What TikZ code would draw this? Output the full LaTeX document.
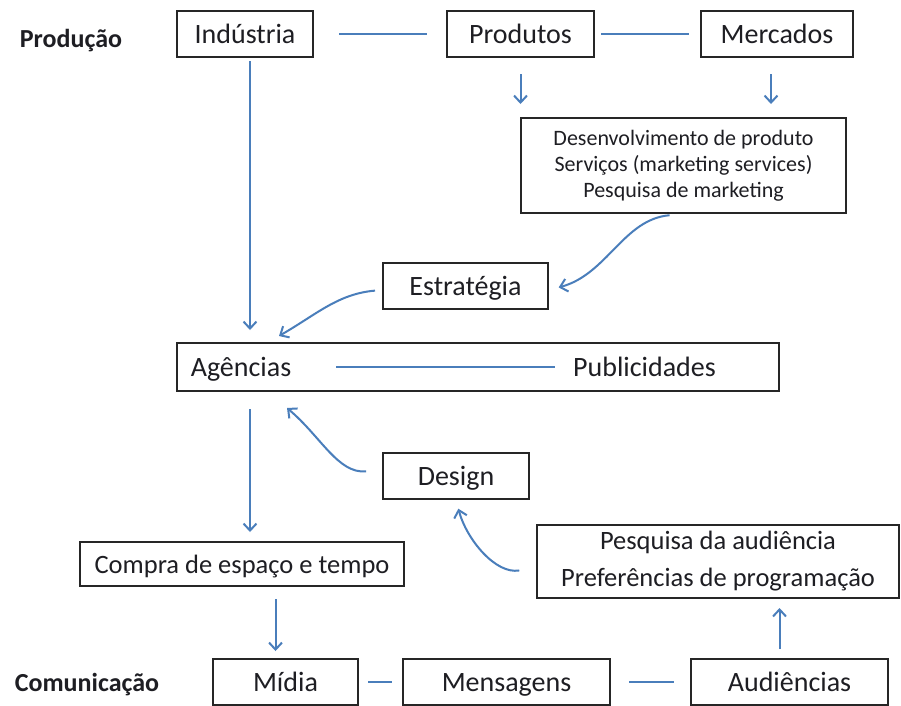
\documentclass[tikz,border=0pt]{standalone}
\usepackage{fontspec}
\setmainfont{Carlito}
\usetikzlibrary{arrows.meta}
\definecolor{linkblue}{RGB}{74,126,187}
\definecolor{inkgray}{RGB}{30,30,35}
\tikzset{x=1pt, y=1pt,
block/.style={ % Sets the properties for each box
draw=black!85,
line width=2pt,
inner sep=0pt,
text=inkgray,
text height=21pt, text depth=3pt,
font=\fontsize{28}{32}\selectfont},
multi/.style={block, text height=, text depth=, align=center},
plain/.style={inner sep=0pt, text=inkgray, text height=21pt, text depth=3pt,
font=\fontsize{28}{32}\selectfont},
stage/.style={plain, font=\bfseries\fontsize{26}{32}\selectfont},
every edge/.style={ % Sets the properties for each connector
draw=linkblue,
line width=2pt},
flow/.style={-{Straight Barb[length=7pt,width=13pt]}}}

\begin{document}
\begin{tikzpicture}
\fill[white] (0,0) rectangle (901,-705);
\useasboundingbox (0,0) rectangle (901,-705);
% Producao
\node[stage] (prodlbl) at (71,-38) {Produção};
\node[block, minimum width=136, minimum height=46] (ind) at (245,-34) {Indústria};
\node[block, minimum width=147, minimum height=46] (prod) at (520.5,-34) {Produtos};
\node[block, minimum width=152, minimum height=46] (merc) at (777,-34) {Mercados};
\node[multi, minimum width=325, minimum height=95,
  font=\fontsize{22}{26}\selectfont] (desenv) at (683.5,-165.5)
  {Desenvolvimento de produto\\Serviços (marketing services)\\Pesquisa de marketing};
\node[block, minimum width=165, minimum height=46] (estr) at (465.5,-286) {Estratégia};
\node[block, minimum width=602, minimum height=48] (agpub) at (478,-367) {};
\node[plain] (ag) at (241,-367) {Agências};
\node[plain] (pub) at (644.5,-367) {Publicidades};
\node[block, minimum width=146, minimum height=46] (design) at (456,-476) {Design};
\node[block, minimum width=324, minimum height=44,
  font=\fontsize{26.5}{32}\selectfont] (compra) at (242,-564) {Compra de espaço e tempo};
\node[multi, minimum width=362, minimum height=73,
  font=\fontsize{26.5}{37}\selectfont] (pesq) at (718,-561.5)
  {Pesquisa da audiência\\Preferências de programação};
% Comunicacao
\node[stage] (comlbl) at (87,-682) {Comunicação};
\node[block, minimum width=145, minimum height=46] (mid) at (285.5,-682) {Mídia};
\node[block, minimum width=207, minimum height=46] (mens) at (506.5,-682) {Mensagens};
\node[block, minimum width=197, minimum height=46] (aud) at (789.5,-682) {Audiências};
% plain links
\draw (ind) edge[shorten <=25pt, shorten >=19pt] (prod);
\draw (prod) edge[shorten <=6pt, shorten >=11pt] (merc);
\draw (ag) edge[shorten <=45pt, shorten >=18pt] (pub);
\draw (mid) edge[shorten <=9pt, shorten >=10pt] (mens);
\draw (mens) edge[shorten <=18pt, shorten >=16pt] (aud);
% straight arrows
\draw (prod.south) edge[flow, shorten <=16pt, shorten >=13pt] (prod.south |- desenv.north);
\draw ([xshift=-6pt]merc.south) edge[flow, shorten <=16pt, shorten >=13pt] ([xshift=-6pt]merc.south |- desenv.north);
\draw ([xshift=5pt]ind.south) edge[flow, shorten <=3pt, shorten >=12pt] ([xshift=5pt]ind.south |- agpub.north);
\draw ([xshift=8pt]compra.north |- agpub.south) edge[flow, shorten <=17pt, shorten >=9pt] ([xshift=8pt]compra.north);
\draw ([xshift=-10pt]mid.north |- compra.south) edge[flow, shorten <=12pt, shorten >=7pt] ([xshift=-10pt]mid.north);
\draw ([xshift=-10pt]aud.north) edge[flow, shorten <=9pt, shorten >=9pt] ([xshift=-10pt]aud.north |- pesq.south);
% curved arrows
\draw (desenv.south) edge[flow, out=185, in=15, shorten <=14pt, shorten >=10pt] ([yshift=-4pt]estr.east);
\draw ([yshift=-4pt]estr.west) edge[flow, out=185, in=30, shorten <=7pt] ([shift={(103pt,6pt)}]agpub.north west);
\draw ([yshift=6pt]design.west) edge[flow, out=185, in=-40, shorten <=16pt] ([shift={(111pt,-16pt)}]agpub.south west);
\draw ([yshift=-6pt]pesq.west) edge[flow, out=190, in=-75, shorten <=17pt, shorten >=9pt] (design.south);
\end{tikzpicture}
\end{document}
